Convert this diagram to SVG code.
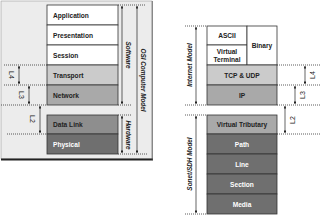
<svg xmlns="http://www.w3.org/2000/svg" width="320" height="215" viewBox="0 0 320 215">
<defs>
<marker id="ah" viewBox="0 0 6 6" refX="5.5" refY="3" markerWidth="4" markerHeight="4" orient="auto-start-reverse">
<path d="M0,0 L6,3 L0,6 Z" fill="#222"/>
</marker>
<style>
.row{stroke:#333;stroke-width:0.8}
.w{fill:#fff}.g1{fill:#cbcbcb}.g2{fill:#a9a9a9}.g3{fill:#8e8e8e}.g4{fill:#6f6f6f}
.t{font-family:"Liberation Sans",Arial,sans-serif;font-weight:bold;font-size:6.6px;fill:#222}
.tw{fill:#fff}
.c{text-anchor:middle}
.lab{font-family:"Liberation Sans",Arial,sans-serif;font-weight:bold;font-style:italic;font-size:6.4px;fill:#222;text-anchor:middle}
.sl{font-family:"Liberation Sans",Arial,sans-serif;font-size:7px;fill:#222;text-anchor:middle}
.dot{stroke:#333;stroke-width:0.8;stroke-dasharray:1,1;fill:none}
.arr{stroke:#222;stroke-width:0.7;fill:none;marker-start:url(#ah);marker-end:url(#ah)}
</style>
</defs>
<rect x="1" y="1" width="151" height="158" fill="#ececec" stroke="#9a9a9a" stroke-width="0.6"/>
<line x1="1" y1="159.5" x2="153" y2="159.5" stroke="#222" stroke-width="2"/>
<line x1="152.3" y1="1" x2="152.3" y2="160" stroke="#555" stroke-width="0.8"/>
<g id="osi-application"><rect class="row w" x="47" y="5" width="71" height="20"/><text class="t" x="53" y="17.5">Application</text></g>
<g id="osi-presentation"><rect class="row w" x="47" y="25" width="71" height="20"/><text class="t" x="53" y="37.5">Presentation</text></g>
<g id="osi-session"><rect class="row w" x="47" y="45" width="71" height="20"/><text class="t" x="53" y="57.5">Session</text></g>
<g id="osi-transport"><rect class="row g1" x="47" y="65" width="71" height="20"/><text class="t" x="53" y="77.5">Transport</text></g>
<g id="osi-network"><rect class="row g2" x="47" y="85" width="71" height="20"/><text class="t" x="53" y="97.5">Network</text></g>
<g id="osi-datalink"><rect class="row g3" x="47" y="115" width="71" height="19"/><text class="t" x="53" y="127">Data Link</text></g>
<g id="osi-physical"><rect class="row g4" x="47" y="134" width="71" height="20"/><text class="t tw" x="53" y="146.5">Physical</text></g>
<g id="inet-ascii"><rect class="row w" x="207" y="26" width="40" height="19"/><text class="t c" x="227" y="38">ASCII</text></g>
<g id="inet-vt"><rect class="row w" x="207" y="45" width="40" height="20"/><text class="t c" x="227" y="53.5">Virtual</text><text class="t c" x="227" y="61.5">Terminal</text></g>
<g id="inet-binary"><rect class="row w" x="247" y="26" width="30" height="39"/><text class="t c" x="262" y="48">Binary</text></g>
<g id="inet-tcp"><rect class="row g1" x="207" y="65" width="70" height="20"/><text class="t c" x="242" y="77.5">TCP &amp; UDP</text></g>
<g id="inet-ip"><rect class="row g2" x="207" y="85" width="70" height="20"/><text class="t c" x="242" y="97.5">IP</text></g>
<g id="sonet-vt"><rect class="row g2" x="207" y="115" width="70" height="19"/><text class="t c" x="242" y="127">Virtual Tributary</text></g>
<g id="sonet-path"><rect class="row g4" x="207" y="134" width="70" height="20"/><text class="t c tw" x="242" y="146.5">Path</text></g>
<g id="sonet-line"><rect class="row g4" x="207" y="154" width="70" height="20"/><text class="t c tw" x="242" y="166.5">Line</text></g>
<g id="sonet-section"><rect class="row g4" x="207" y="174" width="70" height="20"/><text class="t c tw" x="242" y="186.5">Section</text></g>
<g id="sonet-media"><rect class="row g4" x="207" y="194" width="70" height="20"/><text class="t c tw" x="242" y="206.5">Media</text></g>
<g id="connectors">
<path class="dot" d="M4,65H47M4,85H47M1,105H47M7,134H47M118,5H145M118,105H132M118,115H132M118,154H147"/>
<path class="dot" d="M185,26H207M185,105H207M185,115H207M185,214H207M277,65H320M277,85H320M277,105H320M277,134H320"/>
<line class="arr" x1="122" y1="6" x2="122" y2="104"/>
<line class="arr" x1="122" y1="116" x2="122" y2="153"/>
<line class="arr" x1="137" y1="6" x2="137" y2="153"/>
<line class="arr" x1="19" y1="66" x2="19" y2="84"/>
<line class="arr" x1="29" y1="86" x2="29" y2="104"/>
<line class="arr" x1="40" y1="106" x2="40" y2="133"/>
<line class="arr" x1="196" y1="27" x2="196" y2="104"/>
<line class="arr" x1="196" y1="116" x2="196" y2="213"/>
<line class="arr" x1="305" y1="66" x2="305" y2="84"/>
<line class="arr" x1="295" y1="86" x2="295" y2="104"/>
<line class="arr" x1="285" y1="106" x2="285" y2="133"/>
</g>
<text class="lab" transform="translate(126,55) rotate(90)">Software</text>
<text class="lab" transform="translate(126,135) rotate(90)">Hardware</text>
<text class="lab" transform="translate(141,80) rotate(90)">OSI Computer Model</text>
<text class="lab" transform="translate(192,65) rotate(-90)">Internet Model</text>
<text class="lab" transform="translate(192,164) rotate(-90)">Sonet/SDH Model</text>
<text class="sl" transform="translate(9,75) rotate(90)">L4</text>
<text class="sl" transform="translate(19,95) rotate(90)">L3</text>
<text class="sl" transform="translate(30,119) rotate(90)">L2</text>
<text class="sl" transform="translate(315,75) rotate(-90)">L4</text>
<text class="sl" transform="translate(305,95) rotate(-90)">L3</text>
<text class="sl" transform="translate(295,120) rotate(-90)">L2</text>
</svg>
